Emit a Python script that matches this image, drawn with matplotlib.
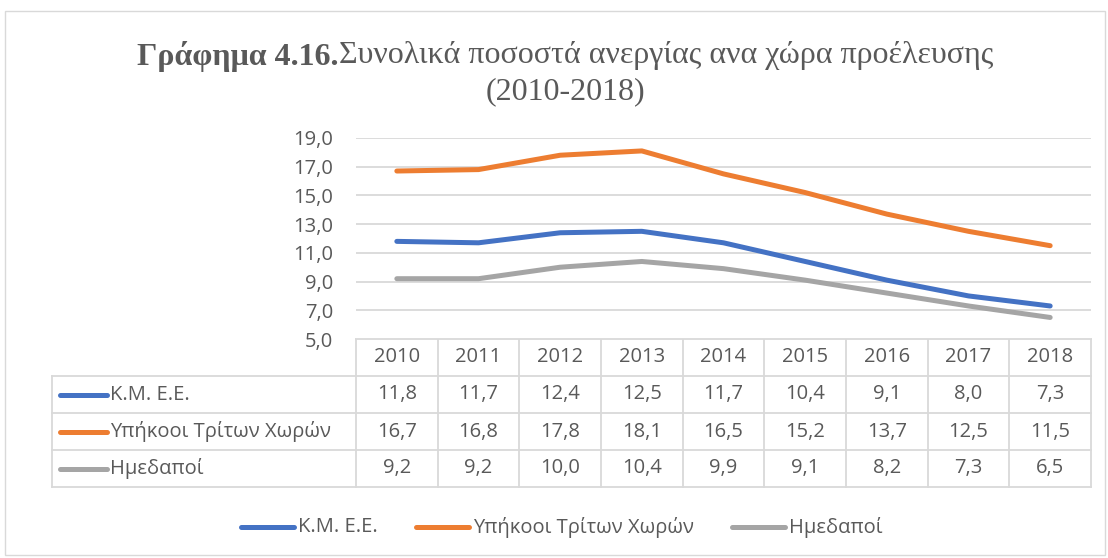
import matplotlib.pyplot as plt
import numpy as np

## DATA

years = ['2010', '2011', '2012', '2013', '2014', '2015', '2016', '2017', '2018']
kmee = [11.8, 11.7, 12.4, 12.5, 11.7, 10.4, 9.1, 8.0, 7.3]
third = [16.7, 16.8, 17.8, 18.1, 16.5, 15.2, 13.7, 12.5, 11.5]
native = [9.2, 9.2, 10.0, 10.4, 9.9, 9.1, 8.2, 7.3, 6.5]
names = ['Κ.Μ. Ε.Ε.', 'Υπήκοοι Τρίτων Χωρών', 'Ημεδαποί']
colors = ['#4472C4', '#ED7D31', '#A5A5A5']
yticks = [5, 7, 9, 11, 13, 15, 17, 19]

series = [kmee, third, native]
txt = '#595959'
grid = '#D9D9D9'
font = 'Open Sans'
fs = 14.5
tfs = 23

W, H = 1108, 558
fig = plt.figure(figsize=(W / 100, H / 100), dpi=100)

def px_axes(l, t, r, b, **kw):
    return fig.add_axes([l / W, 1 - b / H, (r - l) / W, (b - t) / H], **kw)

def width(t):
    fig.canvas.draw()
    return t.get_window_extent().width

# overlay in pixel units for title, table and legend
ov = px_axes(0, 0, W, H)
ov.set_xlim(0, W)
ov.set_ylim(H, 0)
ov.axis('off')

# chart border
ov.add_patch(plt.Rectangle((5, 11), W - 8, H - 14, fill=False, ec=grid, lw=1))

# title: bold part + regular part, centred together
tb = ov.text(0, 56, 'Γράφημα 4.16.', fontsize=tfs, fontweight='bold', family='Liberation Serif',
             color=txt, ha='left', va='center')
tr = ov.text(0, 56, 'Συνολικά ποσοστά ανεργίας ανα χώρα προέλευσης', fontsize=tfs,
             family='Liberation Serif', color=txt, ha='left', va='center')
wb, wr = width(tb), width(tr)
x0 = 565 - (wb + wr) / 2
tb.set_x(x0)
tr.set_x(x0 + wb)
ov.text(565, 92, '(2010-2018)', fontsize=tfs, family='Liberation Serif', color=txt,
        ha='center', va='center')

# line chart
left, right, top, bottom = 356, 1091, 138, 339
ax = px_axes(left, top, right, bottom)
x = np.arange(len(years))
for s, c in zip(series, colors):
    ax.plot(x, s, color=c, lw=3.6, solid_capstyle='round', zorder=3)
ax.set_xlim(-0.5, len(years) - 0.5)
ax.set_ylim(yticks[0], yticks[-1])
ax.set_yticks(yticks)
ax.set_yticklabels([f'{v:.1f}'.replace('.', ',') for v in yticks], family=font,
                   fontsize=fs, color=txt)
ax.set_xticks([])
ax.tick_params(axis='y', length=0, pad=16.5)
ax.grid(axis='y', color=grid, lw=1.3)
for sp in ax.spines.values():
    sp.set_visible(False)

# data table
cw = (right - left) / len(years)
row_y = [339, 376, 413, 450, 487]
lab_left = 52
ov.plot([left, right], [row_y[0], row_y[0]], color=grid, lw=1.3)
for yy in row_y[1:]:
    ov.plot([lab_left, right], [yy, yy], color=grid, lw=1.3)
ov.plot([lab_left, lab_left], [row_y[1], row_y[-1]], color=grid, lw=1.3)
for i in range(len(years) + 1):
    xx = left + i * cw
    ov.plot([xx, xx], [row_y[0], row_y[-1]], color=grid, lw=1.3)
for i, yr in enumerate(years):
    ov.text(left + (i + 0.5) * cw, (row_y[0] + row_y[1]) / 2, yr, ha='center', va='center',
            family=font, fontsize=fs, color=txt)
for r, (s, c, n) in enumerate(zip(series, colors, names)):
    yc = (row_y[r + 1] + row_y[r + 2]) / 2
    ov.plot([60, 107], [yc, yc], color=c, lw=3.6, solid_capstyle='round')
    ov.text(110, yc, n, ha='left', va='center', family=font, fontsize=fs, color=txt)
    for i, v in enumerate(s):
        ov.text(left + (i + 0.5) * cw, yc, f'{v:.1f}'.replace('.', ','), ha='center',
                va='center', family=font, fontsize=fs, color=txt)

# legend
lx = 241
for c, n in zip(colors, names):
    ov.plot([lx, lx + 53], [527, 527], color=c, lw=3.6, solid_capstyle='round')
    t = ov.text(lx + 57, 527, n, ha='left', va='center', family=font, fontsize=fs, color=txt)
    lx += 57 + width(t) + 38

fig.savefig('out.png', dpi=100)
